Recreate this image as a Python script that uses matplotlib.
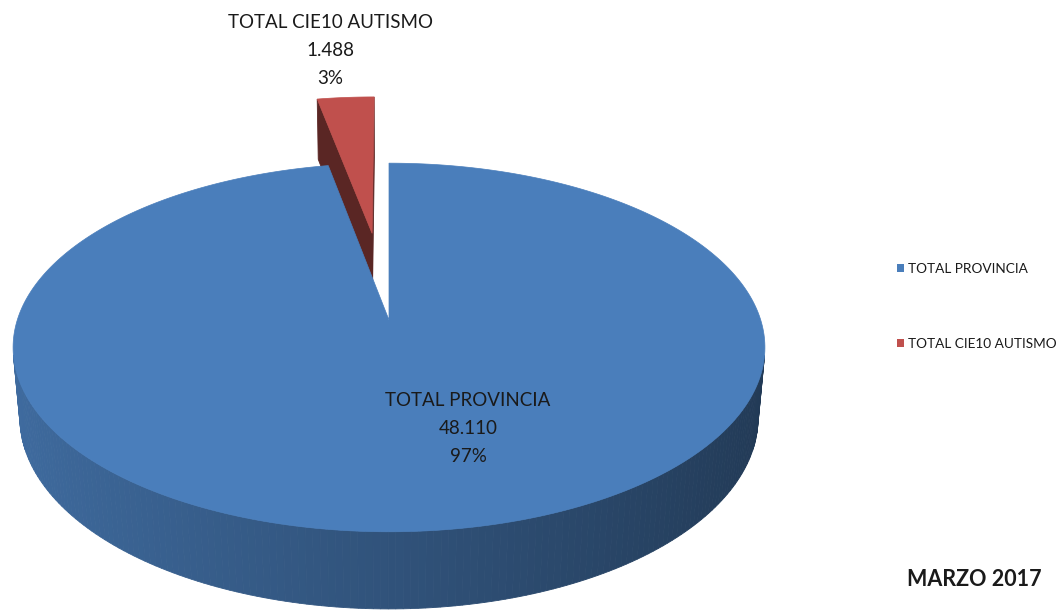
import numpy as np
import matplotlib
matplotlib.use("Agg")
import matplotlib.pyplot as plt
from matplotlib.patches import Polygon, Patch

# data
categories = ["TOTAL PROVINCIA", "TOTAL CIE10 AUTISMO"]
values = [48110, 1488]
explode = [0.0, 0.52]
top_colors = ["#4A7EBB", "#C0504D"]
period = "MARZO 2017"

plt.rcParams["font.family"] = ["Lato", "DejaVu Sans"]

# fake 3d camera (pixels of the whole figure)
CX, CY = 389, 320
FOC = 2182.0
DIST = 5.87
PHI = np.radians(29)
H = 0.218
cam = np.array([0.0, -DIST * np.cos(PHI), DIST * np.sin(PHI)])


def proj(x, y, z):
    d = DIST + y * np.cos(PHI) - z * np.sin(PHI)
    u = CX + x * FOC / d
    v = CY - (y * np.sin(PHI) + z * np.cos(PHI)) * FOC / d
    return u, v


def depth(x, y, z):
    return DIST + y * np.cos(PHI) - z * np.sin(PHI)


def shade(color, f):
    rgb = np.array(matplotlib.colors.to_rgb(color))
    return tuple(np.clip(rgb * f, 0, 1))


total = sum(values)
fracs = [v / total for v in values]

# excel style: first slice starts at 12 o'clock, going clockwise
slices = []
start = 90.0
for i, fr in enumerate(fracs):
    a1 = np.radians(start)
    a0 = np.radians(start - fr * 360)
    mid = (a0 + a1) / 2
    slices.append((i, a0, a1, mid))
    start -= fr * 360

fig = plt.figure(figsize=(10.61, 6.14), dpi=100)
ax = fig.add_axes([0, 0, 1, 1])
ax.set_xlim(0, 1061)
ax.set_ylim(614, 0)
ax.axis("off")

# far slices first
for i, a0, a1, mid in sorted(slices, key=lambda s: -np.sin(s[3])):
    ox = explode[i] * np.cos(mid)
    oy = explode[i] * np.sin(mid)
    col = top_colors[i]
    faces = []

    # outer wall
    t = np.linspace(a0, a1, max(int((a1 - a0) / np.radians(1)), 2) + 1)
    for j in range(len(t) - 1):
        tm = (t[j] + t[j + 1]) / 2
        p = np.array([ox + np.cos(tm), oy + np.sin(tm), 0.0])
        n = np.array([np.cos(tm), np.sin(tm), 0.0])
        if n.dot(cam - p) <= 0:
            continue
        pts = [proj(ox + np.cos(t[j]), oy + np.sin(t[j]), 0),
               proj(ox + np.cos(t[j + 1]), oy + np.sin(t[j + 1]), 0),
               proj(ox + np.cos(t[j + 1]), oy + np.sin(t[j + 1]), -H),
               proj(ox + np.cos(t[j]), oy + np.sin(t[j]), -H)]
        f = 0.655 - 0.2 * np.cos(tm)
        faces.append((depth(*p), pts, shade(col, f)))

    # cut faces
    for a, n in [(a0, np.array([np.sin(a0), -np.cos(a0), 0.0])),
                 (a1, np.array([-np.sin(a1), np.cos(a1), 0.0]))]:
        p = np.array([ox + 0.5 * np.cos(a), oy + 0.5 * np.sin(a), 0.0])
        if n.dot(cam - p) <= 0:
            continue
        pts = [proj(ox, oy, 0), proj(ox + np.cos(a), oy + np.sin(a), 0),
               proj(ox + np.cos(a), oy + np.sin(a), -H), proj(ox, oy, -H)]
        faces.append((depth(*p), pts, shade(col, 0.47)))

    for _, pts, c in sorted(faces, key=lambda f: -f[0]):
        ax.add_patch(Polygon(pts, closed=True, fc=c, ec=c, lw=0.6))

    t = np.linspace(a0, a1, 400)
    top = [proj(ox, oy, 0)] + [proj(ox + np.cos(a), oy + np.sin(a), 0) for a in t]
    ax.add_patch(Polygon(top, closed=True, fc=col, ec=col, lw=0.5))

# data labels
lbl_pos = [(468, 400), (330, 22)]
for i, cat in enumerate(categories):
    x, y = lbl_pos[i]
    lines = [cat, f"{values[i]:,}".replace(",", "."), f"{fracs[i] * 100:.0f}%"]
    for k, s in enumerate(lines):
        ax.text(x, y + k * 28.5, s, ha="center", va="center",
                fontsize=13.5, color="#1a1a1a")

handles = [Patch(fc=c, ec="none") for c in top_colors]
ax.legend(handles, categories, loc="upper left", bbox_to_anchor=(890 / 1061, 1 - 256 / 614),
          frameon=False, fontsize=9.8, handlelength=0.55, handleheight=0.55,
          handletextpad=0.25, labelspacing=4.65, borderpad=0, labelcolor="#1a1a1a")

ax.text(974, 580, period, ha="center", va="center", fontsize=15.5,
        fontweight="bold", color="#1a1a1a")

fig.savefig("out.png", dpi=100)
